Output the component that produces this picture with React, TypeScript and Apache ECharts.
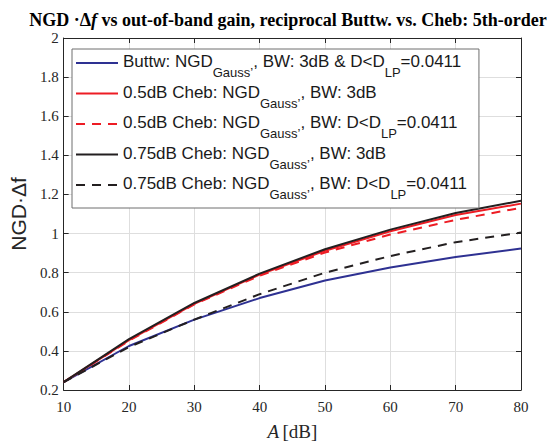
import React, { useEffect, useRef } from "react";
import * as echarts from "echarts";

const xs = [10, 20, 30, 40, 50, 60, 70, 80];
const buttw = [0.24, 0.425, 0.56, 0.67, 0.76, 0.826, 0.88, 0.923];
const cheb05 = [0.24, 0.455, 0.64, 0.79, 0.912, 1.012, 1.095, 1.153];
const cheb05D = [0.24, 0.452, 0.638, 0.785, 0.903, 0.995, 1.07, 1.132];
const cheb075 = [0.24, 0.46, 0.645, 0.795, 0.92, 1.02, 1.105, 1.168];
const cheb075D = [0.24, 0.42, 0.56, 0.69, 0.80, 0.885, 0.956, 1.005];

const names = [
  "Buttw: NGD{sub|Gauss’}, BW: 3dB & D<D{sub|LP}=0.0411",
  "0.5dB Cheb: NGD{sub|Gauss’}, BW: 3dB",
  "0.5dB Cheb: NGD{sub|Gauss’}, BW: D<D{sub|LP}=0.0411",
  "0.75dB Cheb: NGD{sub|Gauss’}, BW: 3dB",
  "0.75dB Cheb: NGD{sub|Gauss’}, BW: D<D{sub|LP}=0.0411",
];
const seriesData = [buttw, cheb05, cheb05D, cheb075, cheb075D];
const colors = ["#2e3192", "#ed1c24", "#ed1c24", "#231f20", "#231f20"];
const dashed = [false, false, true, false, true];

const xTicks = { min: 10, max: 80, interval: 10 };
const yTicks = { min: 0.2, max: 2, interval: 0.2 };

export default function App() {
  const ref = useRef<HTMLDivElement>(null);
  useEffect(() => {
    if (!ref.current) return;
    const chart = echarts.init(ref.current, null, { renderer: "svg" });
    const serif = "'Liberation Serif', 'Times New Roman', serif";
    const sans = "'Liberation Sans', Arial, sans-serif";
    const axisColor = "#262626";
    chart.setOption({
      animation: false,
      backgroundColor: "#ffffff",
      title: {
        text: "{b|NGD ·Δ}{bi|f}{b| vs out-of-band gain, reciprocal Buttw. vs. Cheb: 5th-order}",
        left: 283,
        textAlign: "center",
        top: 6,
        textStyle: {
          rich: {
            b: { fontFamily: serif, fontWeight: "bold", fontSize: 18, color: "#000" },
            bi: { fontFamily: serif, fontWeight: "bold", fontStyle: "italic", fontSize: 18, color: "#000" },
          },
        },
      },
      grid: { left: 60, right: 33, top: 38, bottom: 48, containLabel: false },
      legend: {
        show: true,
        orient: "vertical",
        left: 72,
        top: 49,
        padding: [4, 12, 7, 3],
        itemWidth: 42,
        itemHeight: 4,
        itemGap: 4.5,
        itemStyle: { opacity: 0 },
        backgroundColor: "#ffffff",
        borderColor: "#6e6e6e",
        borderWidth: 1,
        data: names,
        formatter: (n: string) => "{m|" + n.replace(/\{sub\|([^}]*)\}/g, "}{sub|$1}{m|") + "}",
        textStyle: {
          fontFamily: sans,
          fontSize: 17,
          color: "#1a1a1a",
          rich: {
            m: { fontFamily: sans, fontSize: 17, lineHeight: 20, verticalAlign: "top", color: "#1a1a1a" },
            sub: {
              fontFamily: sans,
              fontSize: 13,
              lineHeight: 10,
              verticalAlign: "top",
              color: "#1a1a1a",
              padding: [13, 0, 0, 0],
            },
          },
        },
      },
      xAxis: [
        {
          type: "value",
          ...xTicks,
          name: "{i|A} {n|[dB]}",
          nameLocation: "middle",
          nameGap: 32,
          nameTextStyle: {
            verticalAlign: "top",
            rich: {
              i: { fontFamily: serif, fontStyle: "italic", fontSize: 19, color: "#262626" },
              n: { fontFamily: serif, fontSize: 19, color: "#262626" },
            },
          },
          axisLine: { show: true, onZero: false, lineStyle: { color: axisColor, width: 1 } },
          axisTick: { show: true, inside: true, length: 5, lineStyle: { color: axisColor } },
          axisLabel: { fontFamily: serif, fontSize: 15, color: "#262626", margin: 9 },
          splitLine: { show: true, lineStyle: { color: "#dedede", width: 1 } },
        },
        {
          type: "value",
          ...xTicks,
          position: "top",
          axisLine: { show: true, onZero: false, lineStyle: { color: axisColor, width: 1 } },
          axisTick: { show: true, inside: true, length: 5, lineStyle: { color: axisColor } },
          axisLabel: { show: false },
          splitLine: { show: false },
        },
      ],
      yAxis: [
        {
          type: "value",
          ...yTicks,
          name: "NGD·Δf",
          nameLocation: "middle",
          nameGap: 32,
          nameTextStyle: { fontFamily: sans, fontSize: 21, color: "#262626" },
          axisLine: { show: true, onZero: false, lineStyle: { color: axisColor, width: 1 } },
          axisTick: { show: true, inside: true, length: 5, lineStyle: { color: axisColor } },
          axisLabel: { fontFamily: serif, fontSize: 15, color: "#262626", margin: 5 },
          splitLine: { show: true, lineStyle: { color: "#dedede", width: 1 } },
        },
        {
          type: "value",
          ...yTicks,
          position: "right",
          axisLine: { show: true, onZero: false, lineStyle: { color: axisColor, width: 1 } },
          axisTick: { show: true, inside: true, length: 5, lineStyle: { color: axisColor } },
          axisLabel: { show: false },
          splitLine: { show: false },
        },
      ],
      series: names.map((n, i) => ({
        name: n,
        type: "line",
        xAxisIndex: 0,
        yAxisIndex: 0,
        symbol: "none",
        smooth: false,
        data: xs.map((x, j) => [x, seriesData[i][j]]),
        lineStyle: {
          color: colors[i],
          width: 2,
          type: dashed[i] ? [9, 7] : "solid",
        },
        itemStyle: { color: colors[i] },
      })),
    });
    return () => chart.dispose();
  }, []);
  return (
    <div
      ref={ref}
      style={{ position: "absolute", left: 0, top: 0, width: 554, height: 446 }}
    />
  );
}
